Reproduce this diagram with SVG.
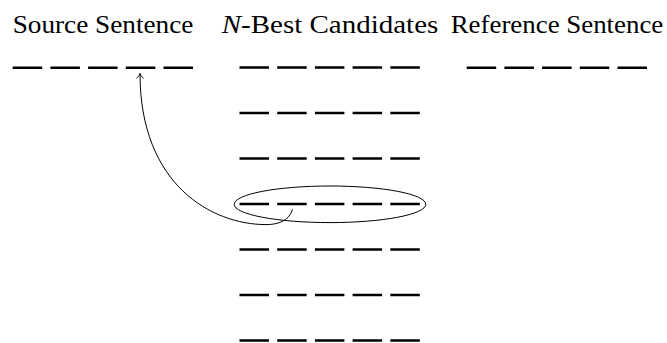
<svg xmlns="http://www.w3.org/2000/svg" width="667" height="343" viewBox="0 0 667 343">
<style>
.t{font-family:"Liberation Serif","DejaVu Serif",serif;font-size:25px;fill:#000}
.d{stroke:#000;stroke-width:2.6;fill:none}
.c{stroke:#000;stroke-width:1;fill:none}
</style>
<defs>
<marker id="ah" markerWidth="10" markerHeight="10" refX="8" refY="5" orient="auto" markerUnits="userSpaceOnUse">
<path d="M3,1.5 Q6,4.5 8,5 Q6,5.5 3,8.5" fill="none" stroke="#000" stroke-width="0.9"/>
</marker>
<g id="row">
<path class="d" d="M0,0h29.5M37.7,0h29.5M75.4,0h29.5M113.1,0h29.5M150.8,0h29.5"/>
</g>
</defs>
<rect width="667" height="343" fill="#fff"/>
<g id="source">
<text class="t" x="12.7" y="33.3" textLength="180.6" lengthAdjust="spacingAndGlyphs">Source Sentence</text>
<use href="#row" x="12.7" y="67.8"/>
</g>
<g id="candidates">
<text class="t" x="221.7" y="33.3" textLength="216.6" lengthAdjust="spacingAndGlyphs"><tspan font-style="italic">N</tspan>-Best Candidates</text>
<use href="#row" x="239.5" y="67.5"/>
<use href="#row" x="239.5" y="113"/>
<use href="#row" x="239.5" y="158.5"/>
<use href="#row" x="239.5" y="204"/>
<use href="#row" x="239.5" y="249.5"/>
<use href="#row" x="239.5" y="295"/>
<use href="#row" x="239.5" y="340.5"/>
</g>
<g id="reference">
<text class="t" x="450.7" y="33.3" textLength="212.6" lengthAdjust="spacingAndGlyphs">Reference Sentence</text>
<use href="#row" x="466.7" y="67.8"/>
</g>
<g id="highlight">
<ellipse class="c" cx="330" cy="204.3" rx="95.8" ry="18.3"/>
</g>
<g id="connectors">
<path class="c" d="M292.5,209.5 C289,221 278,224.6 266,224.6 C212,224.6 140,185 140,73.5" marker-end="url(#ah)"/>
</g>
</svg>
